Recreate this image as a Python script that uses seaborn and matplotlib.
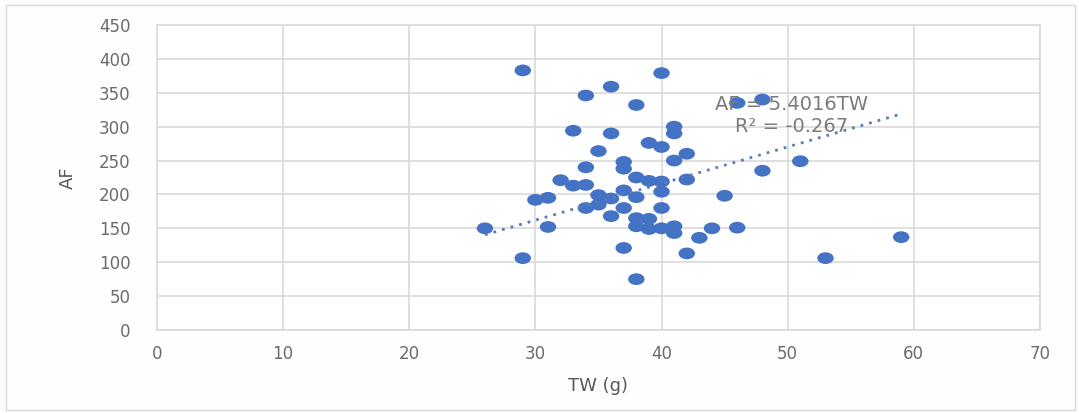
import numpy as np
import pandas as pd
import matplotlib
matplotlib.use("Agg")
import matplotlib.pyplot as plt
from matplotlib.path import Path
from matplotlib.patches import Rectangle
import seaborn as sns

# ---- data ----
tw = [26, 29, 29, 30, 31, 31, 32, 33, 33, 34, 34, 34, 34, 35, 35, 35,
      36, 36, 36, 36, 37, 37, 37, 37, 37, 38, 38, 38, 38, 38, 38,
      39, 39, 39, 39, 40, 40, 40, 40, 40, 40, 41, 41, 41, 41, 41,
      42, 42, 42, 43, 44, 45, 46, 46, 48, 48, 51, 53, 59]
af = [150, 383, 106, 192, 195, 152, 221, 294, 213, 346, 240, 214, 180, 264, 199, 185,
      359, 290, 194, 168, 248, 238, 206, 180, 121, 332, 225, 196, 165, 153, 75,
      276, 220, 164, 149, 379, 270, 219, 204, 180, 150, 300, 290, 250, 153, 143,
      260, 222, 113, 136, 150, 198, 335, 151, 340, 235, 249, 106, 137]
slope = 5.4016
r2_label = "-0.267"
x_ticks = [0, 10, 20, 30, 40, 50, 60, 70]
y_ticks = [0, 50, 100, 150, 200, 250, 300, 350, 400, 450]

df = pd.DataFrame({"TW": tw, "AF": af})
xl = np.array([min(tw), max(tw)], dtype=float)
trend = pd.DataFrame({"TW": xl, "AF": slope * xl})

sns.set_theme(style="white")
plt.rcParams["font.family"] = ["DejaVu Sans"]

fig = plt.figure(figsize=(10.79, 4.13), dpi=100)
fig.patch.set_facecolor("#FEFEFE")
fig.patches.append(Rectangle((0.006, 0.008), 0.990, 0.980, transform=fig.transFigure,
                             fill=False, edgecolor="#D9D9D9", linewidth=1.0))
ax = fig.add_axes([0.1455, 0.201, 0.8183, 0.7385])
ax.set_facecolor("white")

# elliptical marker (reference is horizontally stretched)
circ = Path.unit_circle()
ell = Path(circ.vertices * np.array([1.4, 1.0]), circ.codes)

sns.scatterplot(data=df, x="TW", y="AF", ax=ax, marker=ell, s=140,
                color="#4472C4", edgecolor="none", linewidth=0, zorder=3)
sns.lineplot(data=trend, x="TW", y="AF", ax=ax, color="#5B7CB8",
             linestyle=(0, (1, 2.2)), linewidth=2.0, zorder=4)

ax.set_xlim(0, 70)
ax.set_ylim(0, 450)
ax.set_xticks(x_ticks)
ax.set_yticks(y_ticks)
ax.grid(True, color="#D9D9D9", linewidth=1.2)
ax.set_axisbelow(True)
for sp in ax.spines.values():
    sp.set_color("#D9D9D9")
    sp.set_linewidth(1.2)
ax.tick_params(axis="both", length=0, labelsize=12, labelcolor="#6B6B6B")
ax.tick_params(axis="y", pad=19)
ax.tick_params(axis="x", pad=11)
ax.set_xlabel("TW (g)", fontsize=13, color="#595959", labelpad=10)
ax.set_ylabel("AF", fontsize=13, color="#595959", labelpad=16)

ax.text(50.3, 332, f"AF = {slope}TW", fontsize=14, color="#7A7A7A",
        ha="center", va="center", zorder=5)
ax.text(50.3, 300, f"R² = {r2_label}", fontsize=14, color="#7A7A7A",
        ha="center", va="center", zorder=5)

fig.savefig("out.png", dpi=100, facecolor=fig.get_facecolor())
